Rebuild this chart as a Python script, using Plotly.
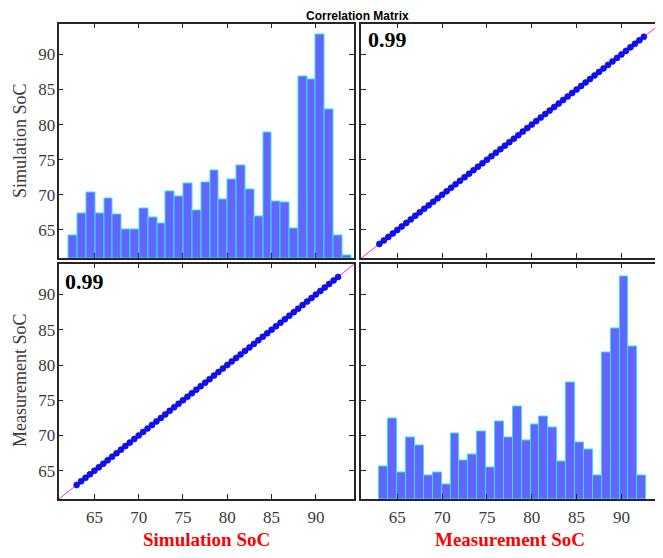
import numpy as np
import plotly.graph_objects as go

# ---------------- data ----------------
title_text = "Correlation Matrix"
var_names = ["Simulation SoC", "Measurement SoC"]
corr_label = "0.99"
tick_vals = [65, 70, 75, 80, 85, 90]

# histogram of Simulation SoC (bin start, bin width, counts)
sim_bin_start = 62.12
sim_bin_width = 0.996
sim_counts = [15, 30, 44, 30, 40, 29, 19, 19, 33, 27, 23, 45, 41, 50, 32, 51,
              59, 39, 53, 62, 46, 28, 84, 38, 37, 20, 122, 120, 150, 100, 15, 2]

# histogram of Measurement SoC
meas_bin_start = 63.0
meas_bin_width = 0.992
meas_counts = [22, 54, 18, 41, 36, 16, 18, 10, 44, 26, 30, 45, 21, 52, 41, 62,
               39, 50, 55, 48, 25, 78, 38, 33, 16, 98, 114, 149, 102, 16]

# paired scatter points (Simulation SoC, Measurement SoC)
sim_pts = [63.0, 63.5, 64.0, 64.5, 65.0, 65.5, 66.0, 66.5, 67.0, 67.5,
           68.0, 68.5, 69.0, 69.5, 70.0, 70.5, 71.0, 71.5, 72.0, 72.5,
           73.0, 73.5, 74.0, 74.5, 75.0, 75.5, 76.0, 76.5, 77.0, 77.5,
           78.0, 78.5, 79.0, 79.5, 80.0, 80.5, 81.0, 81.5, 82.0, 82.5,
           83.0, 83.5, 84.0, 84.5, 85.0, 85.5, 86.0, 86.5, 87.0, 87.5,
           88.0, 88.5, 89.0, 89.5, 90.0, 90.5, 91.0, 91.5, 92.0, 92.5]
meas_pts = [63.0, 63.5, 64.0, 64.5, 65.0, 65.5, 66.0, 66.5, 67.0, 67.5,
            68.0, 68.5, 69.0, 69.5, 70.0, 70.5, 71.0, 71.5, 72.0, 72.5,
            73.0, 73.5, 74.0, 74.5, 75.0, 75.5, 76.0, 76.5, 77.0, 77.5,
            78.0, 78.5, 79.0, 79.5, 80.0, 80.5, 81.0, 81.5, 82.0, 82.5,
            83.0, 83.5, 84.0, 84.5, 85.0, 85.5, 86.0, 86.5, 87.0, 87.5,
            88.0, 88.5, 89.0, 89.5, 90.0, 90.5, 91.0, 91.5, 92.0, 92.5]

# ---------------- styling ----------------
# the page has an 8px body margin, so the figure is 8px smaller and all
# positions (measured in window pixels) are shifted by 8px
OFF = 8
W, H = 663 - OFF, 558 - OFF


def px(xw):
    return (xw - OFF) / W


def py(yw):
    return 1 - (yw - OFF) / H


XR = [60.95, 94.3]
YR = [61.0, 94.4]
HIST_TOP = 157.5
xd_left = [px(58.5), px(354.0)]
xd_right = [px(361.0), px(660.0)]
yd_top = [py(258.0), py(23.5)]
yd_bot = [py(499.0), py(263.5)]

BAR_FILL = "#6464ff"
BAR_EDGE = "#28e4ff"
DOT = "#1010ff"
FIT = "#ff22ff"
AX = "#262626"
TXT = "#3a3a3a"
SERIF = "Liberation Serif"

fig = go.Figure()

sim_centers = [sim_bin_start + sim_bin_width * (i + 0.5) for i in range(len(sim_counts))]
meas_centers = [meas_bin_start + meas_bin_width * (i + 0.5) for i in range(len(meas_counts))]

# histograms on their own (hidden) count axes: x/y = top-left, x2/y2 = bottom-right
fig.add_trace(go.Bar(x=sim_centers, y=sim_counts, width=sim_bin_width,
                     marker=dict(color=BAR_FILL, line=dict(color=BAR_EDGE, width=1)),
                     xaxis="x", yaxis="y", showlegend=False))
fig.add_trace(go.Bar(x=meas_centers, y=meas_counts, width=meas_bin_width,
                     marker=dict(color=BAR_FILL, line=dict(color=BAR_EDGE, width=1)),
                     xaxis="x2", yaxis="y2", showlegend=False))

# visible frames of the diagonal panels (no marks)
fig.add_trace(go.Scatter(x=[], y=[], xaxis="x3", yaxis="y3", showlegend=False))
fig.add_trace(go.Scatter(x=[], y=[], xaxis="x6", yaxis="y6", showlegend=False))

# least-squares fit lines through the scatter data
p_tr = np.polyfit(meas_pts, sim_pts, 1)
p_bl = np.polyfit(sim_pts, meas_pts, 1)
line_x = np.array(XR)

fig.add_trace(go.Scatter(x=line_x, y=np.polyval(p_tr, line_x), mode="lines",
                         line=dict(color=FIT, width=1), xaxis="x4", yaxis="y4",
                         showlegend=False))
fig.add_trace(go.Scatter(x=meas_pts, y=sim_pts, mode="markers",
                         marker=dict(color=DOT, size=6, line=dict(width=0.6, color="#0000b0")),
                         xaxis="x4", yaxis="y4", showlegend=False))
fig.add_trace(go.Scatter(x=line_x, y=np.polyval(p_bl, line_x), mode="lines",
                         line=dict(color=FIT, width=1), xaxis="x5", yaxis="y5",
                         showlegend=False))
fig.add_trace(go.Scatter(x=sim_pts, y=meas_pts, mode="markers",
                         marker=dict(color=DOT, size=6, line=dict(width=0.6, color="#0000b0")),
                         xaxis="x5", yaxis="y5", showlegend=False))


def ax(domain, rng, anchor, labels, standoff):
    return dict(domain=domain, range=rng, anchor=anchor, showgrid=False,
                zeroline=False, showline=True, linecolor=AX, linewidth=1.5,
                mirror="ticks", ticks="inside", ticklen=5, tickwidth=1,
                tickcolor=AX, tickvals=tick_vals, showticklabels=labels,
                tickfont=dict(family=SERIF, size=17, color=TXT),
                ticklabelstandoff=standoff)


def hidden(domain, rng, anchor):
    return dict(domain=domain, range=rng, anchor=anchor, visible=False,
                showgrid=False, zeroline=False)


fig.update_layout(
    width=W, height=H, margin=dict(l=0, r=0, t=0, b=0),
    paper_bgcolor="white", plot_bgcolor="rgba(0,0,0,0)", bargap=0,
    xaxis=hidden(xd_left, XR, "y"),
    yaxis=hidden(yd_top, [0, HIST_TOP], "x"),
    xaxis2=hidden(xd_right, XR, "y2"),
    yaxis2=hidden(yd_bot, [0, HIST_TOP], "x2"),
    xaxis3=ax(xd_left, XR, "y3", False, 2),
    yaxis3=ax(yd_top, YR, "x3", True, -2),
    xaxis4=ax(xd_right, XR, "y4", False, 2),
    yaxis4=ax(yd_top, YR, "x4", False, -2),
    xaxis5=ax(xd_left, XR, "y5", True, 2),
    yaxis5=ax(yd_bot, YR, "x5", True, -2),
    xaxis6=ax(xd_right, XR, "y6", True, 2),
    yaxis6=ax(yd_bot, YR, "x6", False, -2),
)

ann = [
    dict(text="<b>" + title_text + "</b>", x=px(357), y=1.0, yanchor="top",
         borderpad=0, font=dict(family="Liberation Sans", size=12, color="black")),
    dict(text="<b>" + corr_label + "</b>", x=px(366), y=py(39.5),
         xanchor="left", font=dict(family=SERIF, size=22, color="black")),
    dict(text="<b>" + corr_label + "</b>", x=px(63), y=py(281.5),
         xanchor="left", font=dict(family=SERIF, size=22, color="black")),
    dict(text="<b>" + var_names[0] + "</b>", x=px(206), y=py(539),
         font=dict(family=SERIF, size=19, color="#ff0000")),
    dict(text="<b>" + var_names[1] + "</b>", x=px(510), y=py(539),
         font=dict(family=SERIF, size=19, color="#ff0000")),
    dict(text=var_names[0], x=px(20), y=py(141), textangle=-90,
         font=dict(family=SERIF, size=18, color=TXT)),
    dict(text=var_names[1], x=px(20), y=py(381), textangle=-90,
         font=dict(family=SERIF, size=18, color=TXT)),
]
for a in ann:
    a.update(xref="paper", yref="paper", showarrow=False)
    a.setdefault("xanchor", "center")
    a.setdefault("yanchor", "middle")
fig.update_layout(annotations=ann)

fig.write_html("out.html")
